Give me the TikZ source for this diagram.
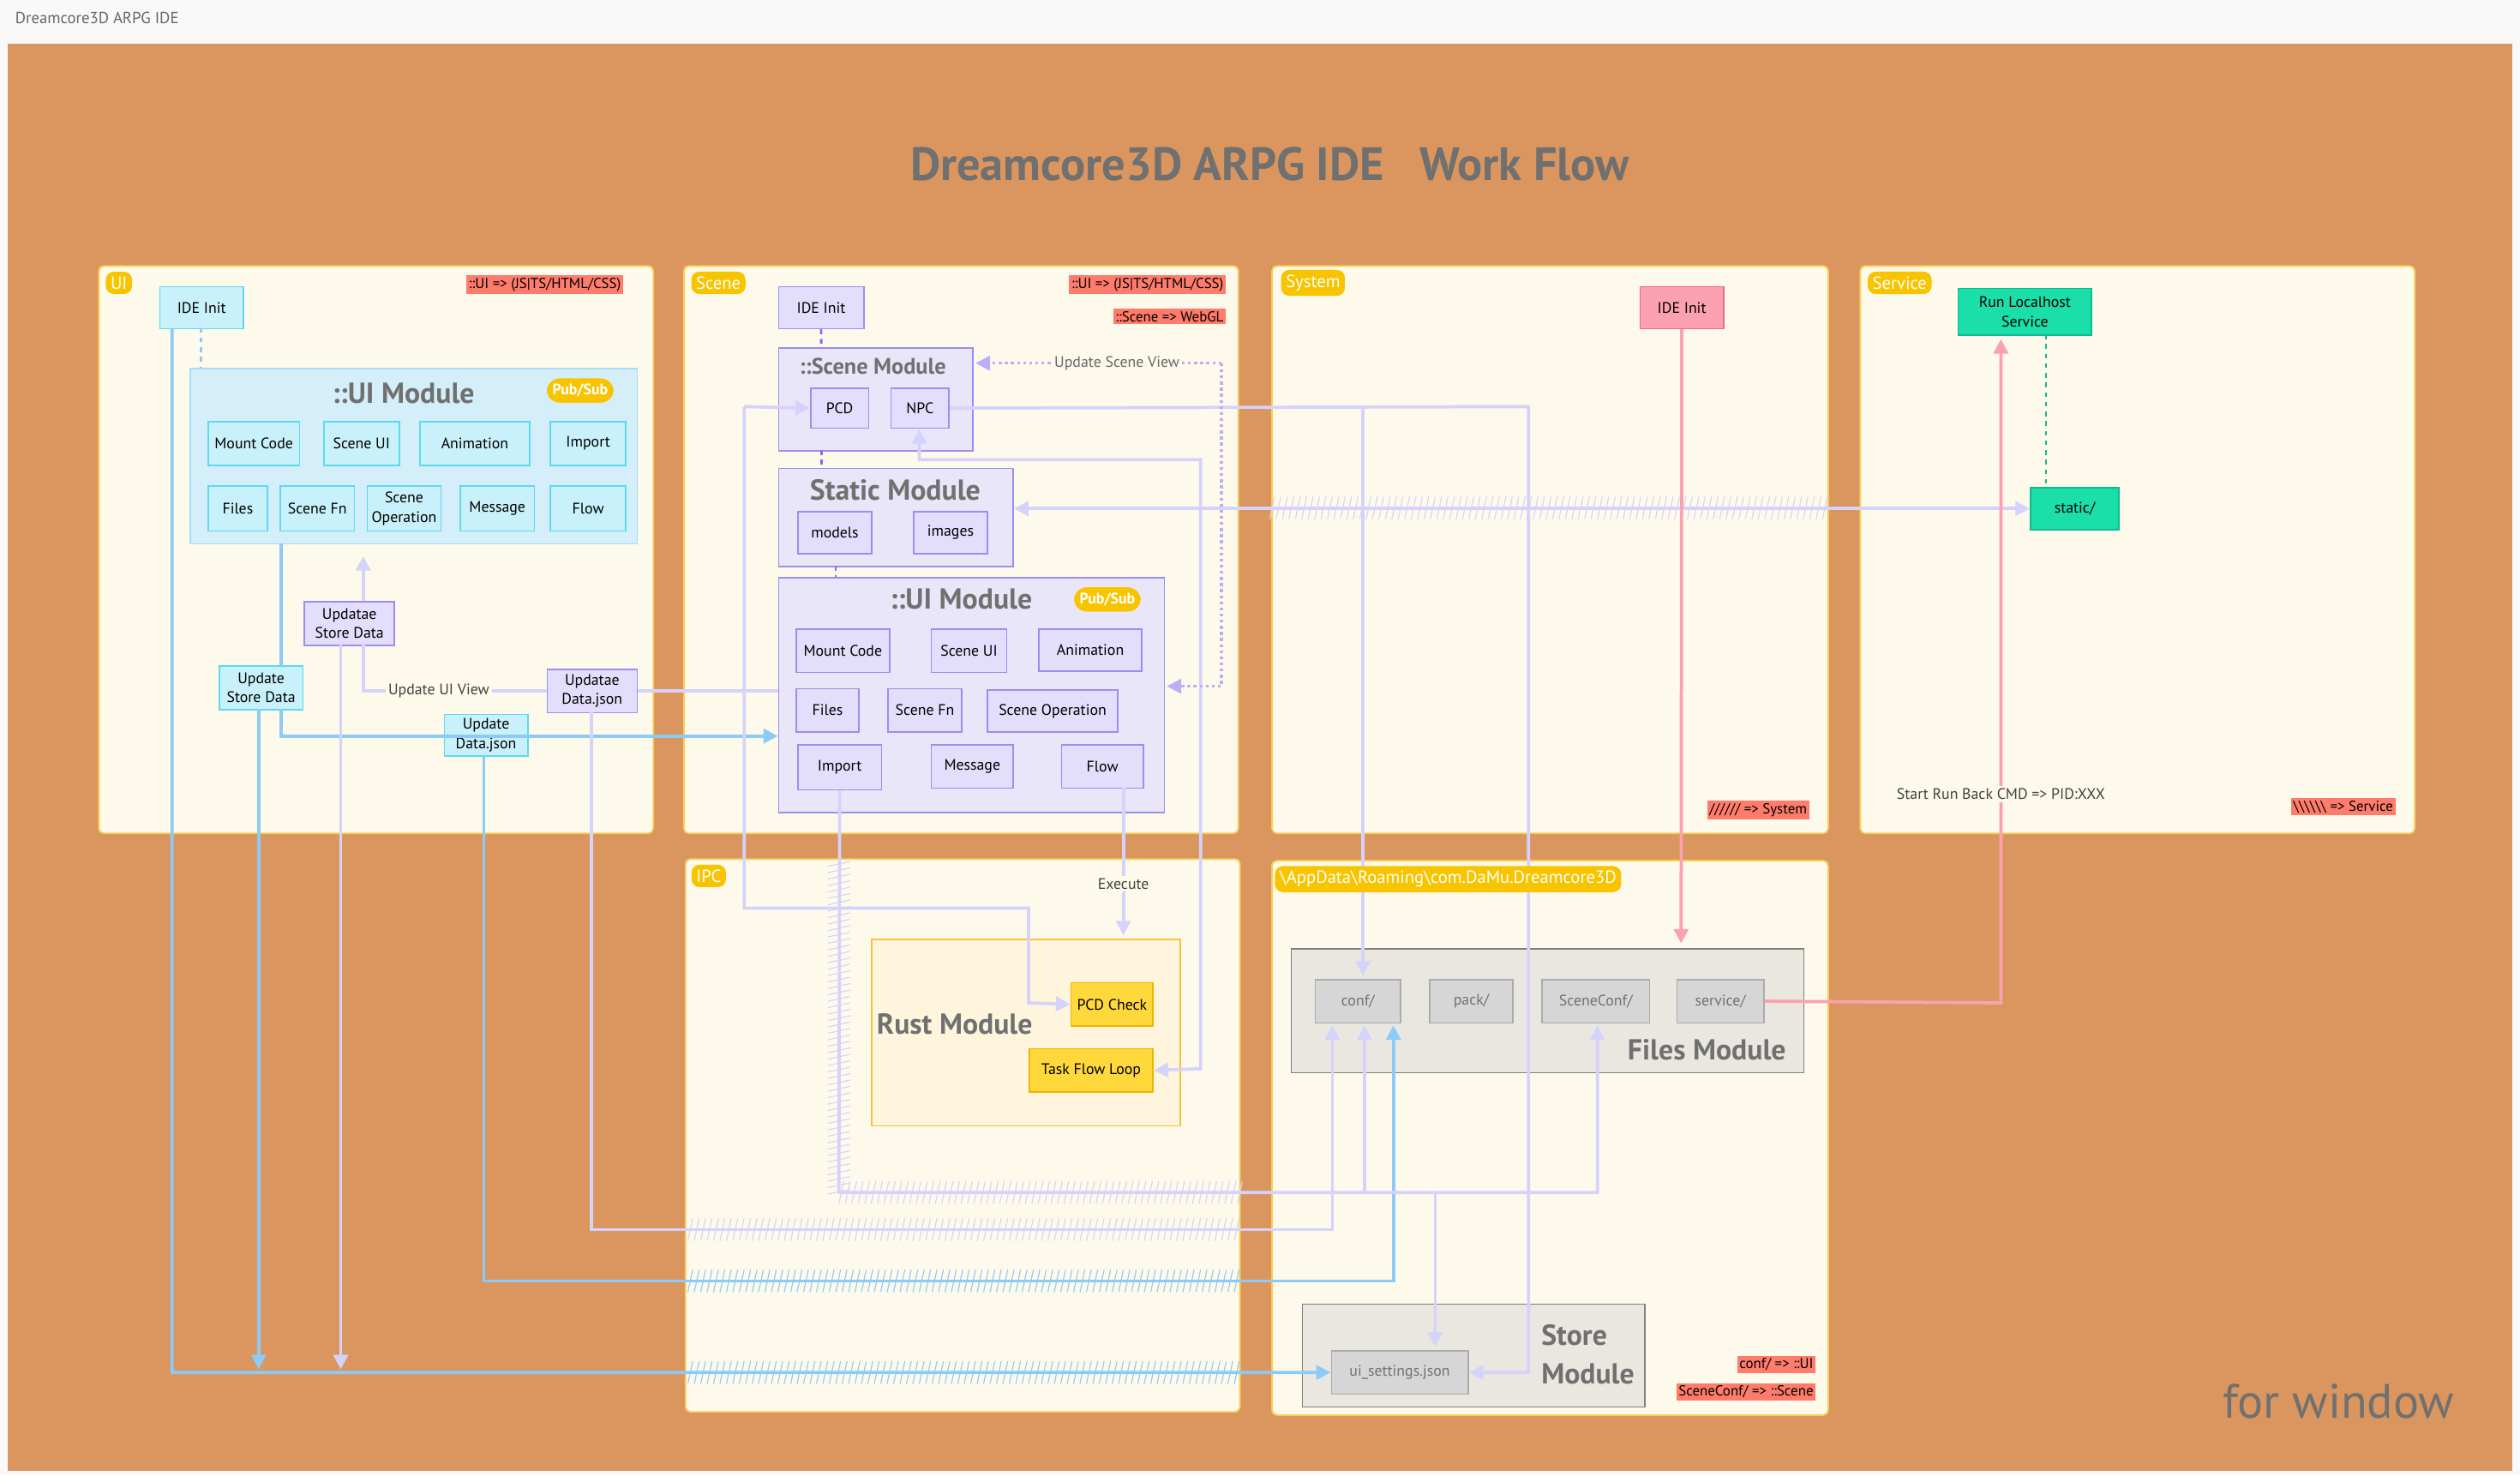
\documentclass[tikz,border=0pt]{standalone}
\usepackage{fontspec}
\setmainfont{PT Sans}
\usetikzlibrary{arrows.meta}
\definecolor{bgor}{HTML}{DA965E}
\definecolor{cream}{HTML}{FEFAEB}
\definecolor{lanebd}{HTML}{F7CF55}
\definecolor{tagy}{HTML}{F8C400}
\definecolor{redl}{HTML}{FF7B6B}
\definecolor{cyf}{HTML}{C9F1FB}
\definecolor{cyb}{HTML}{5CD9F0}
\definecolor{cyc}{HTML}{D4EEFA}
\definecolor{cycb}{HTML}{A7DDF5}
\definecolor{puf}{HTML}{E2DEFB}
\definecolor{pub}{HTML}{9E8CF0}
\definecolor{puc}{HTML}{E9E6FA}
\definecolor{pul}{HTML}{D5D3FB}
\definecolor{cyl}{HTML}{8CCBF7}
\definecolor{pkf}{HTML}{FBA1B0}
\definecolor{pkb}{HTML}{F26782}
\definecolor{tlf}{HTML}{1ADFA8}
\definecolor{tlb}{HTML}{12B890}
\definecolor{rsf}{HTML}{FFF5DC}
\definecolor{rsb}{HTML}{F5C23A}
\definecolor{ylf}{HTML}{FFD93B}
\definecolor{ylb}{HTML}{F0B400}
\definecolor{gyc}{HTML}{EAE7E1}
\definecolor{gyb}{HTML}{7F7F7F}
\definecolor{gyf}{HTML}{D6D6D6}
\definecolor{gybb}{HTML}{ABABAB}
\definecolor{ttl}{HTML}{707070}
\newcommand\bx[7]{\node[#1,anchor=north west,minimum width={(#5-#3)*1pt},minimum height={(#6-#4)*1pt},inner sep=1pt] (#2) at (#3,#4) {#7};}
\newcommand\hh[4]{\pgfmathtruncatemacro\nn{(#3-#2)/4}\foreach \i in {0,...,\nn}{\draw[#1,line width=0.6pt] ({#2+4*\i},#4+7) -- ({#2+4*\i+3},#4-7);}}
\newcommand\vh[4]{\pgfmathtruncatemacro\nn{(#3-#2)/4}\foreach \i in {0,...,\nn}{\draw[#1,line width=0.6pt] (#4-7,{#2+4*\i+3}) -- (#4+7,{#2+4*\i});}}
\begin{document}
\begin{tikzpicture}[x=1pt,y=-1pt,
 lane/.style={fill=cream,draw=lanebd,line width=1pt,rounded corners=3pt},
 tag/.style={fill=tagy,text=white,rounded corners=5pt,font=\fontsize{11}{12}\selectfont,inner sep=3pt},
 red/.style={fill=redl,font=\fontsize{9}{10}\selectfont,inner sep=1.5pt},
 cy/.style={fill=cyf,draw=cyb,line width=0.9pt,font=\fontsize{9.5}{12}\selectfont,align=center},
 cyc/.style={fill=cyc,draw=cycb,line width=0.9pt},
 pu/.style={fill=puf,draw=pub,line width=0.9pt,font=\fontsize{9.5}{12}\selectfont,align=center},
 puc/.style={fill=puc,draw=pub,line width=0.9pt},
 gy/.style={fill=gyf,draw=gybb,line width=0.9pt,font=\fontsize{9.5}{12}\selectfont,text=ttl},
 gyc/.style={fill=gyc,draw=gyb,line width=0.9pt},
 ctitle/.style={text=ttl,font=\fontsize{18}{21}\selectfont\bfseries},
 pill/.style={fill=tagy,text=white,rounded corners=8pt,font=\fontsize{9.5}{11}\selectfont\bfseries,inner sep=3.5pt},
 pl/.style={draw=pul,line width=2pt},
 cl/.style={draw=cyl,line width=2pt},
 pk/.style={draw=pkf,line width=2pt},
 tip/.style={-{Triangle[length=9pt,width=9pt]}},
 lbl/.style={fill=cream,font=\fontsize{9.5}{11}\selectfont,text=black!75,inner sep=1.5pt}]
\useasboundingbox (0,0) rectangle (1568,918);
\fill[white!95!gray] (0,0) rectangle (1568,918);
\fill[bgor] (5,27) rectangle (1563,915);
\node[anchor=west,font=\fontsize{10}{11}\selectfont,text=black!60] (apptitle) at (6,11) {Dreamcore3D ARPG IDE};
\node[text=ttl,font=\fontsize{29}{32}\selectfont\bfseries] (title) at (790,102) {Dreamcore3D ARPG IDE\ \ \ Work Flow};
\node[text=ttl,font=\fontsize{30}{32}\selectfont] (forwin) at (1455,872) {for window};
% lanes
\bx{lane}{ui}{61}{165}{406}{518}{}
\bx{lane}{scene}{425}{165}{770}{518}{}
\bx{lane}{sys}{791}{165}{1137}{518}{}
\bx{lane}{srv}{1157}{165}{1502}{518}{}
\bx{lane}{ipc}{426}{534}{771}{878}{}
\bx{lane}{app}{791}{535}{1137}{880}{}
\node[red] (r1) at (339,177) {::UI => (JS|TS/HTML/CSS)};
\node[red] (r2) at (714,177) {::UI => (JS|TS/HTML/CSS)};
\node[red,anchor=east] (r3) at (763,197) {::Scene => WebGL};
\node[red] (r4) at (1094,504) {////// => System};
\node[red] (r5) at (1458,502) {\textbackslash\textbackslash\textbackslash\textbackslash\textbackslash\textbackslash\ => Service};
\node[red,anchor=east] (r6) at (1130,849) {conf/ => ::UI};
\node[red,anchor=east] (r7) at (1130,866) {SceneConf/ => ::Scene};
% UI lane
\bx{cy}{uiinit}{99}{178}{151}{204}{IDE Init}
\bx{cyc}{uimod}{118}{229}{396}{338}{}
\node[ctitle] at (251,245) {::UI Module};
\node[pill] at (361,243) {Pub/Sub};
\bx{cy}{u1}{129}{262}{186}{289}{Mount Code}
\bx{cy}{u2}{201}{262}{248}{289}{Scene UI}
\bx{cy}{u3}{261}{262}{329}{289}{Animation}
\bx{cy}{u4}{342}{262}{389}{289}{Import}
\bx{cy}{u5}{129}{302}{166}{330}{Files}
\bx{cy}{u6}{174}{302}{220}{330}{Scene Fn}
\bx{cy}{u7}{228}{302}{274}{330}{Scene\\Operation}
\bx{cy}{u8}{286}{302}{332}{330}{Message}
\bx{cy}{u9}{342}{302}{389}{330}{Flow}
% Scene lane
\bx{pu}{scinit}{484}{178}{537}{204}{IDE Init}
\bx{puc}{scmod}{484}{216}{605}{280}{}
\node[ctitle,font=\fontsize{14}{16}\selectfont\bfseries] at (543,228) {::Scene Module};
\bx{pu}{pcd}{504}{241}{540}{266}{PCD}
\bx{pu}{npc}{554}{241}{590}{266}{NPC}
\bx{puc}{stmod}{484}{291}{630}{352}{}
\node[ctitle] at (557,305) {Static Module};
\bx{pu}{models}{496}{318}{542}{344}{models}
\bx{pu}{images}{568}{318}{614}{344}{images}
\bx{puc}{ui2}{484}{359}{724}{505}{}
\node[ctitle] at (598,373) {::UI Module};
\node[pill] at (689,373) {Pub/Sub};
\bx{pu}{s1}{495}{391}{553}{418}{Mount Code}
\bx{pu}{s2}{579}{391}{626}{418}{Scene UI}
\bx{pu}{s3}{646}{391}{710}{417}{Animation}
\bx{pu}{s4}{495}{428}{534}{455}{Files}
\bx{pu}{s5}{552}{428}{598}{455}{Scene Fn}
\bx{pu}{s6}{614}{429}{695}{455}{Scene Operation}
\bx{pu}{s7}{496}{463}{548}{491}{Import}
\bx{pu}{s8}{579}{463}{630}{490}{Message}
\bx{pu}{s9}{660}{463}{711}{490}{Flow}
% system / service
\bx{pu,fill=pkf,draw=pkb}{sysinit}{1020}{178}{1072}{204}{IDE Init}
\bx{pu,fill=tlf,draw=tlb}{runls}{1218}{179}{1301}{208}{Run Localhost\\Service}
\bx{pu,fill=tlf,draw=tlb}{static}{1263}{303}{1318}{329}{static/}
% IPC
\bx{pu,fill=rsf,draw=rsb}{rust}{542}{584}{734}{700}{}
\node[ctitle] at (594,637) {Rust Module};
\bx{pu,fill=ylf,draw=ylb}{pcdc}{666}{611}{717}{638}{PCD Check}
\bx{pu,fill=ylf,draw=ylb}{tfl}{640}{652}{717}{679}{Task Flow Loop}
% AppData
\bx{gyc}{files}{803}{590}{1122}{667}{}
\node[ctitle] at (1062,653) {Files Module};
\bx{gy}{conf}{818}{609}{871}{636}{conf/}
\bx{gy}{pack}{889}{609}{941}{636}{pack/}
\bx{gy}{sconf}{959}{609}{1026}{636}{SceneConf/}
\bx{gy}{service}{1043}{609}{1097}{636}{service/}
\bx{gyc}{store}{810}{811}{1023}{875}{}
\node[ctitle,align=left,font=\fontsize{18}{24}\selectfont\bfseries] at (988,843) {Store\\Module};
\bx{gy}{uiset}{828}{840}{913}{867}{ui\_settings.json}
% small boxes in UI lane
\bx{pu}{usd}{189}{374}{245}{401}{Updatae\\Store Data}
\bx{cy}{usd2}{136}{414}{188}{441}{Update\\Store Data}
\bx{pu}{udj}{340}{416}{396}{443}{Updatae\\Data.json}
\bx{cy}{udj2}{276}{444}{328}{470}{Update\\Data.json}
% dashed short links
\draw[cyl,line width=1.5pt,dashed] (125,204) -- (125,229);
\draw[pub!80!blue,line width=1.5pt,dashed] (scinit.south) -- (511,216);
\draw[pub!80!blue,line width=1.5pt,dashed] (511,280) -- (511,291);
\draw[pub!80!blue,line width=1.5pt,dashed] (520,352) -- (520,359);
\draw[tlb,line width=1.5pt,dashed] (1273,208) -- (1273,303);
% hatches
\hh{pul}{790}{1135}{316}
\hh{cyl}{428}{770}{854}
\hh{pul}{428}{770}{765}
\hh{cyl}{428}{770}{797}
\hh{pul}{522}{770}{742}
\vh{pul}{536}{740}{522}
% connectors
\draw[pl,{Triangle[length=9pt,width=9pt]}-{Triangle[length=9pt,width=9pt]}] (stmod.east |- static.west) -- (static.west);
\draw[cl,tip] (107,204) -- (107,854) -- (uiset.west);
\draw[cl] (175,338) -- (175,414);
\draw[cl,tip] (175,441) -- (175,458) -- (ui2.west |- 0,458);
\draw[cl,tip] (161,441) -- (161,852);
\draw[pl,tip] (212,401) -- (212,852);
\draw[pl,tip] (226,374) -- (226,346);
\draw[pl] (udj.west |- 0,430) -- (226,430) -- (226,401);
\node[lbl] at (273,430) {Update UI View};
\draw[pl] (udj.east |- 0,430) -- (484,430);
\draw[pl,tip] (368,443) -- (368,765) -- (829,765) -- (829,638);
\draw[cl,tip] (301,470) -- (301,797) -- (867,797) -- (867,638);
\draw[pl,tip] (463,253) -- (pcd.west);
\draw[pl,tip] (463,253) -- (463,565) -- (640,565) -- (640,624) -- (pcdc.west);
\draw[pl,tip] (npc.east) -- (951,253) -- (951,854) -- (uiset.east);
\draw[pl,tip] (848,253) -- (848,607);
\draw[pl,{Triangle[length=9pt,width=9pt]}-{Triangle[length=9pt,width=9pt]}] (572,267) -- (572,286) -- (747,286) -- (747,665) -- (tfl.east);
\draw[pl,tip] (s7.south) -- (522,742) -- (994,742) -- (994,638);
\draw[pl,tip] (849,742) -- (849,638);
\draw[pl,tip] (893,742) -- (893,838);
\draw[pl,tip] (699,490) -- (699,582);
\node[lbl] at (699,550) {Execute};
\draw[pub!70,line width=1.8pt,dotted,tip] (760,226) -- (607,226);
\draw[pub!70,line width=1.8pt,dotted,tip] (760,226) -- (760,427) -- (726,427);
\node[lbl,text=black!60] at (695,226) {Update Scene View};
\draw[pk,tip] (sysinit.south) -- (1046,587);
\draw[pk,tip] (service.east) -- (1245,624) -- (1245,211);
\node[lbl] at (1245,494) {Start Run Back CMD => PID:XXX};
% tags on top
\node[tag] (tui) at (74,176) {UI};
\node[tag] (tsc) at (447,176) {Scene};
\node[tag] (tsy) at (817,176) {System};
\node[tag] (tsv) at (1182,176) {Service};
\node[tag] (tipc) at (441,545) {IPC};
\node[tag] (tapp) at (901,547) {\textbackslash AppData\textbackslash Roaming\textbackslash com.DaMu.Dreamcore3D};
\end{tikzpicture}
\end{document}
